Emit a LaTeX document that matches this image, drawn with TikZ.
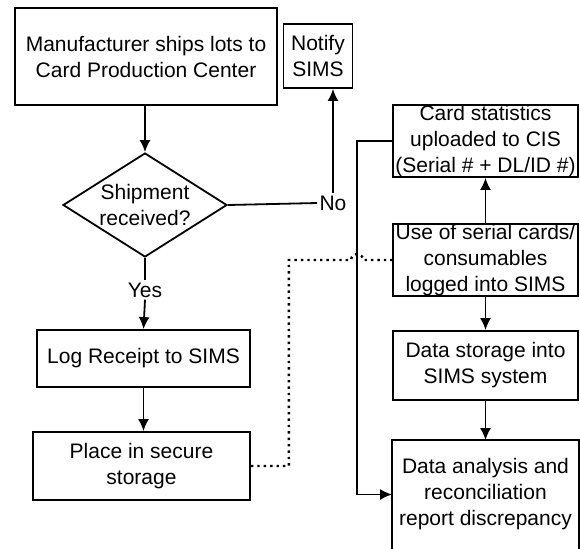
\documentclass[tikz,border=0pt]{standalone}
\usepackage{fontspec}
\setmainfont{Liberation Sans}
\usetikzlibrary{shapes.geometric,arrows.meta}

\begin{document}
\begin{tikzpicture}[x=0.5pt,y=-0.5pt,
		box/.style={draw,line width=0.9pt,align=center,inner sep=0pt,font=\fontsize{10.5}{13}\selectfont},
		lbl/.style={inner sep=1pt,font=\fontsize{10.5}{13}\selectfont},
		con/.style={line width=0.9pt},
		arr/.style={line width=0.9pt,-{Latex[length=6pt,width=5.5pt]}}]
	\useasboundingbox (0,0) rectangle (580,548);

	\node[box,minimum width=131pt,minimum height=48.5pt] (manu) at (146,56.5) {Manufacturer ships lots to\\Card Production Center};
	\node[box,minimum width=34.5pt,minimum height=32pt] (notify) at (318,56) {Notify\\SIMS};
	\node[box,shape=diamond,aspect=1.6,minimum width=82pt,minimum height=52pt] (dia) at (145,205) {Shipment\\received?};
	\node[lbl] (no) at (333,203) {No};
	\node[lbl] (yes) at (145,290) {Yes};
	\node[box,minimum width=106.5pt,minimum height=28.5pt] (log) at (143.5,358.5) {Log Receipt to SIMS};
	\node[box,minimum width=108.5pt,minimum height=34pt] (place) at (141.5,466) {Place in secure\\storage};

	\node[box,minimum width=92.5pt,minimum height=36pt] (card) at (485.5,141) {Card statistics\\uploaded to CIS\\(Serial \# + DL/ID \#)};
	\node[box,minimum width=92.5pt,minimum height=33pt] (use) at (485.5,260) {Use of serial cards/\\consumables\\logged into SIMS};
	\node[box,minimum width=92.5pt,minimum height=34.5pt] (store) at (485.5,365.5) {Data storage into\\SIMS system};
	\node[box,draw=none,minimum width=92.5pt,minimum height=53.5pt] (analysis) at (485.5,494.5) {Data analysis and\\reconciliation\\report discrepancy};
	\draw[con] (analysis.south west) -- (analysis.north west) -- (analysis.north east) -- (analysis.south east);

	\draw[arr] (manu.south -| dia.north) -- (dia.north);
	\draw[con] (dia.east) -- (no.west);
	\draw[arr] (no.north) -- (no.north |- notify.south);
	\draw[con] (dia.south) -- (yes.north);
	\draw[arr] (yes.south) -- (log.north);
	\draw[arr] (log.south) -- (log.south |- place.north);

	\draw[con,line width=1.2pt,dotted] (place.east) -- ++(19pt,0) |- ([xshift=-20.5pt]use.west)
		arc[start angle=180,end angle=0,radius=3pt] -- (use.west);
	\draw[arr] (card.west) -- ++(-17.5pt,0) |- (analysis.west);
	\draw[arr] (use.north) -- (card.south);
	\draw[arr] (use.south) -- (store.north);
	\draw[arr] (store.south) -- (analysis.north);
\end{tikzpicture}
\end{document}
